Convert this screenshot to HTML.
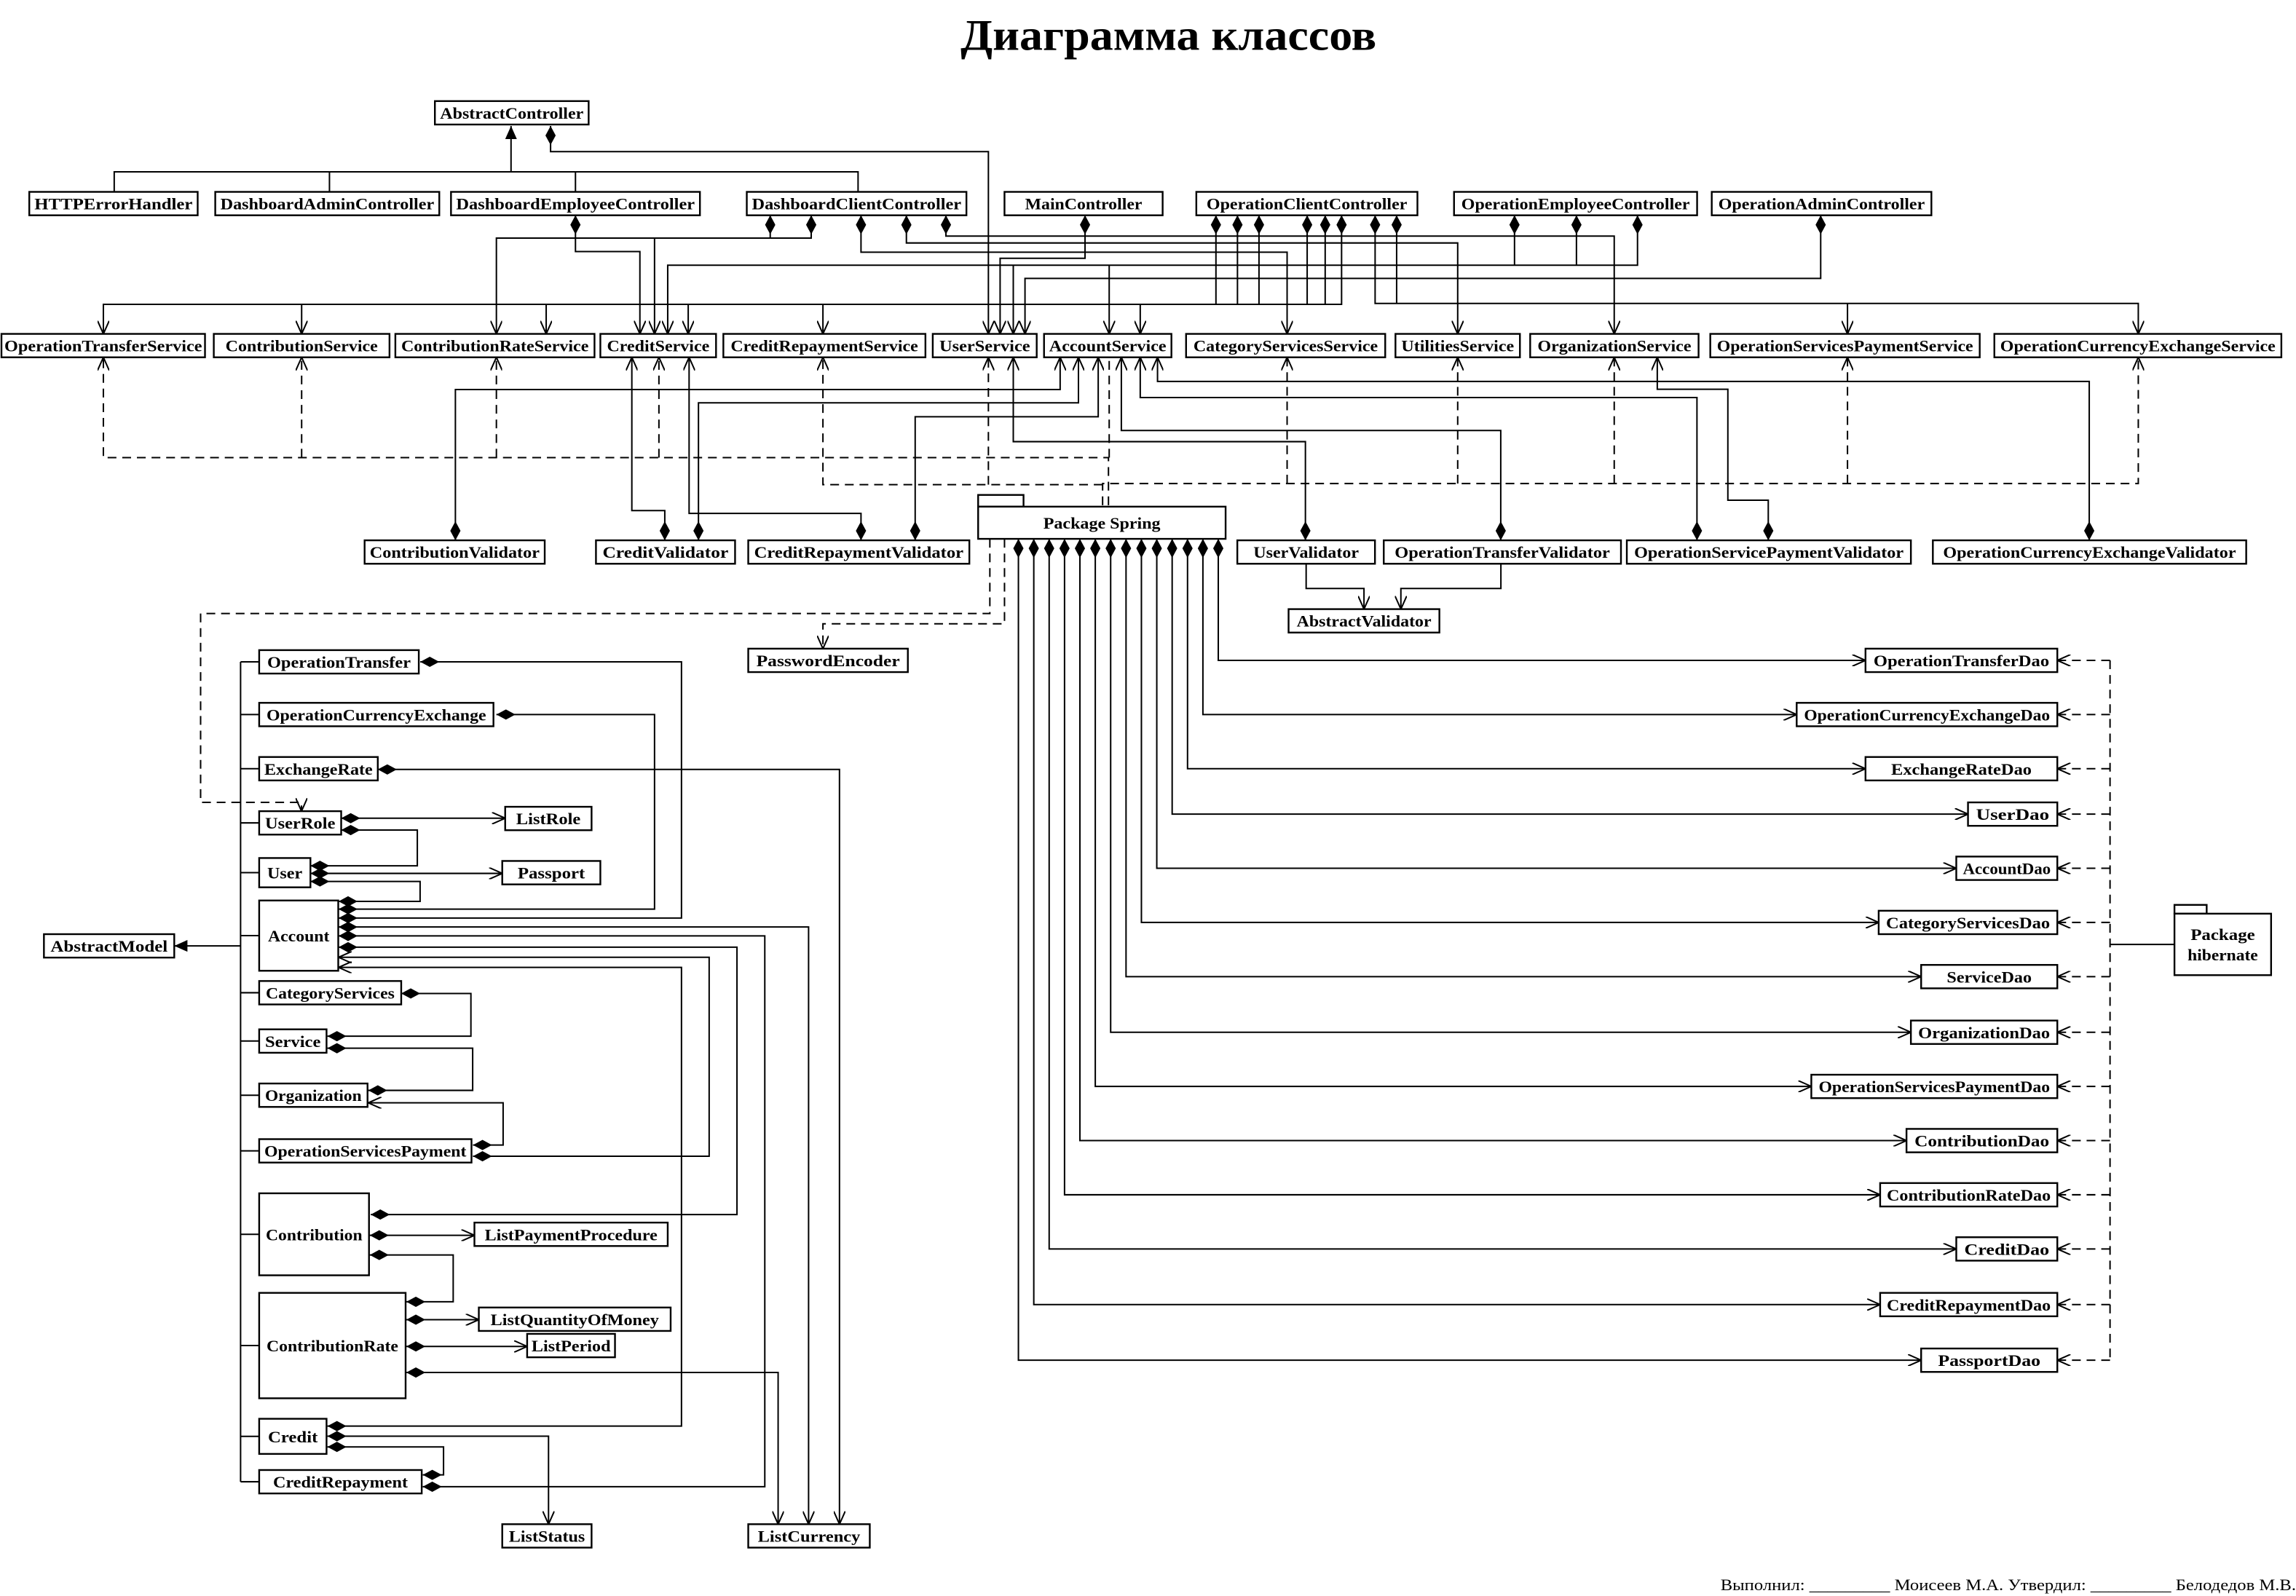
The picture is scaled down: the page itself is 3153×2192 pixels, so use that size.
<!DOCTYPE html>
<html><head><meta charset="utf-8"><style>
html,body{margin:0;padding:0;background:#fff}
svg{display:block}
text{font-family:"Liberation Serif","DejaVu Serif",serif;font-weight:bold;font-size:11px;fill:#000}
.b{fill:#fff;stroke:#000;stroke-width:1.2}
.l{fill:none;stroke:#000;stroke-width:1}
.d{fill:none;stroke:#000;stroke-width:1;stroke-dasharray:6,4}
</style></head><body>
<svg width="3153" height="2192" viewBox="0 0 1568 1090" xmlns="http://www.w3.org/2000/svg">
<defs>
<marker id="a" markerWidth="10" markerHeight="8" refX="9" refY="4" orient="auto" markerUnits="userSpaceOnUse"><path d="M0,0 L9,4 L0,8" fill="none" stroke="#000" stroke-width="1"/></marker>
<marker id="dm" markerWidth="14" markerHeight="8" refX="0" refY="3.5" orient="auto" markerUnits="userSpaceOnUse"><path d="M0,3.5 L6.5,0 L13,3.5 L6.5,7 Z" fill="#000"/></marker>
<marker id="de" markerWidth="14" markerHeight="8" refX="13" refY="3.5" orient="auto" markerUnits="userSpaceOnUse"><path d="M0,3.5 L6.5,0 L13,3.5 L6.5,7 Z" fill="#000"/></marker>
<marker id="t" markerWidth="10" markerHeight="10" refX="9" refY="4" orient="auto" markerUnits="userSpaceOnUse"><path d="M0,0 L9,4 L0,8 Z" fill="#000"/></marker>
</defs>
<rect width="1568" height="1090" fill="#fff"/>
<text x="798" y="34" text-anchor="middle" style="font-size:30px" textLength="284" lengthAdjust="spacingAndGlyphs">Диаграмма классов</text>

<g class="l">
<path d="M376,86 V103.5 H675 V228" marker-start="url(#dm)" marker-end="url(#a)"/>
<path d="M78,131 V117.3 H586 V131 M225,117.3 V131 M393,117.3 V131"/>
<path d="M349,117.3 V86" marker-end="url(#t)"/>
<path d="M393,147 V171.8 H437 V228" marker-start="url(#dm)" marker-end="url(#a)"/>
<path d="M554,147 V162.6 H339 V228" marker-start="url(#dm)" marker-end="url(#a)"/>
<path d="M526,147 V162.6" marker-start="url(#dm)"/>
<path d="M447,162.6 V228" marker-end="url(#a)"/>
<path d="M588,147 V172.2 H879 V228" marker-start="url(#dm)" marker-end="url(#a)"/>
<path d="M619,147 V165.9 H995.5 V228" marker-start="url(#dm)" marker-end="url(#a)"/>
<path d="M646,147 V161.2 H1102.4 V228" marker-start="url(#dm)" marker-end="url(#a)"/>
<path d="M741,147 V176.4 H683 V228" marker-start="url(#dm)" marker-end="url(#a)"/>
<path d="M1118.3,147 V181.1 H456 V228" marker-start="url(#dm)" marker-end="url(#a)"/>
<path d="M1034.3,147 V181.1" marker-start="url(#dm)"/>
<path d="M1076.6,147 V181.1" marker-start="url(#dm)"/>
<path d="M692,181.1 V228" marker-end="url(#a)"/>
<path d="M757.5,181.1 V228" marker-end="url(#a)"/>
<path d="M1243.4,147 V190.1 H700 V228" marker-start="url(#dm)" marker-end="url(#a)"/>
<path d="M916.2,147 V207.8 H70.6 V228" marker-start="url(#dm)" marker-end="url(#a)"/>
<path d="M830.4,147 V207.8" marker-start="url(#dm)"/>
<path d="M845.1,147 V207.8" marker-start="url(#dm)"/>
<path d="M859.8,147 V207.8" marker-start="url(#dm)"/>
<path d="M892.7,147 V207.8" marker-start="url(#dm)"/>
<path d="M905,147 V207.8" marker-start="url(#dm)"/>
<path d="M206,207.8 V228" marker-end="url(#a)"/>
<path d="M373,207.8 V228" marker-end="url(#a)"/>
<path d="M470,207.8 V228" marker-end="url(#a)"/>
<path d="M562,207.8 V228" marker-end="url(#a)"/>
<path d="M778.7,207.8 V228" marker-end="url(#a)"/>
<path d="M939.1,147 V207.2 H1460.3 V228" marker-start="url(#dm)" marker-end="url(#a)"/>
<path d="M953.8,147 V207.2" marker-start="url(#dm)"/>
<path d="M1261.7,207.2 V228" marker-end="url(#a)"/>

<path d="M311,369 V266 H724 V244" marker-start="url(#dm)" marker-end="url(#a)"/>
<path d="M454,369 V348.7 H431.5 V244" marker-start="url(#dm)" marker-end="url(#a)"/>
<path d="M477,369 V275.1 H736.5 V244" marker-start="url(#dm)" marker-end="url(#a)"/>
<path d="M588,369 V350.6 H470.6 V244" marker-start="url(#dm)" marker-end="url(#a)"/>
<path d="M625,369 V284.6 H750 V244" marker-start="url(#dm)" marker-end="url(#a)"/>
<path d="M891.5,369 V301.6 H692 V244" marker-start="url(#dm)" marker-end="url(#a)"/>
<path d="M1024.9,369 V294 H765.8 V244" marker-start="url(#dm)" marker-end="url(#a)"/>
<path d="M1158.9,369 V271.5 H778.7 V244" marker-start="url(#dm)" marker-end="url(#a)"/>
<path d="M1426.8,369 V260.5 H790.5 V244" marker-start="url(#dm)" marker-end="url(#a)"/>
<path d="M1207.6,369 V341.6 H1180 V265.8 H1131.8 V244" marker-start="url(#dm)" marker-end="url(#a)"/>
<path d="M892,385 V401.9 H931.5 V416" marker-end="url(#a)"/>
<path d="M1025,385 V401.9 H956.7 V416" marker-end="url(#a)"/>
</g>

<g class="d">
<path d="M757,345 V312.5 H70.6 V244" marker-end="url(#a)"/>
<path d="M206,312.5 V244" marker-end="url(#a)"/>
<path d="M339,312.5 V244" marker-end="url(#a)"/>
<path d="M450,312.5 V244" marker-end="url(#a)"/>
<path d="M757.5,312.5 V244"/>
<path d="M753,345 V330.2 H1460.3 V244" marker-end="url(#a)"/>
<path d="M879,330.2 V244" marker-end="url(#a)"/>
<path d="M995.5,330.2 V244" marker-end="url(#a)"/>
<path d="M1102.4,330.2 V244" marker-end="url(#a)"/>
<path d="M1261.7,330.2 V244" marker-end="url(#a)"/>
<path d="M753,331 H562 V244" marker-end="url(#a)"/>
<path d="M675,331 V244" marker-end="url(#a)"/>
<path d="M676,368 V419 H137 V548 H205.9 V554" marker-end="url(#a)"/>
<path d="M686,368 V426 H562 V443" marker-end="url(#a)"/>
<path d="M1441,451 V929"/>
<path d="M1441,451 H1405" marker-end="url(#a)"/>
<path d="M1441,488 H1405" marker-end="url(#a)"/>
<path d="M1441,525 H1405" marker-end="url(#a)"/>
<path d="M1441,556 H1405" marker-end="url(#a)"/>
<path d="M1441,593 H1405" marker-end="url(#a)"/>
<path d="M1441,630 H1405" marker-end="url(#a)"/>
<path d="M1441,667 H1405" marker-end="url(#a)"/>
<path d="M1441,705 H1405" marker-end="url(#a)"/>
<path d="M1441,742 H1405" marker-end="url(#a)"/>
<path d="M1441,779 H1405" marker-end="url(#a)"/>
<path d="M1441,816 H1405" marker-end="url(#a)"/>
<path d="M1441,853 H1405" marker-end="url(#a)"/>
<path d="M1441,891 H1405" marker-end="url(#a)"/>
<path d="M1441,929 H1405" marker-end="url(#a)"/>
</g>

<g class="l">
<path d="M1441,645 H1485"/>
<path d="M832,368 V451 H1274" marker-start="url(#dm)" marker-end="url(#a)"/>
<path d="M821.5,368 V488 H1227" marker-start="url(#dm)" marker-end="url(#a)"/>
<path d="M811,368 V525 H1274" marker-start="url(#dm)" marker-end="url(#a)"/>
<path d="M800.5,368 V556 H1344" marker-start="url(#dm)" marker-end="url(#a)"/>
<path d="M790,368 V593 H1336" marker-start="url(#dm)" marker-end="url(#a)"/>
<path d="M779.5,368 V630 H1283" marker-start="url(#dm)" marker-end="url(#a)"/>
<path d="M769,368 V667 H1312" marker-start="url(#dm)" marker-end="url(#a)"/>
<path d="M758.5,368 V705 H1305" marker-start="url(#dm)" marker-end="url(#a)"/>
<path d="M748,368 V742 H1237" marker-start="url(#dm)" marker-end="url(#a)"/>
<path d="M737.5,368 V779 H1302" marker-start="url(#dm)" marker-end="url(#a)"/>
<path d="M727,368 V816 H1284" marker-start="url(#dm)" marker-end="url(#a)"/>
<path d="M716.5,368 V853 H1336" marker-start="url(#dm)" marker-end="url(#a)"/>
<path d="M706,368 V891 H1284" marker-start="url(#dm)" marker-end="url(#a)"/>
<path d="M695.5,368 V929 H1312" marker-start="url(#dm)" marker-end="url(#a)"/>
</g>

<g class="l">
<path d="M164.3,452 V1012 M164.3,452 H177 M164.3,488 H177 M164.3,525 H177 M164.3,562 H177 M164.3,596 H177 M164.3,639 H177 M164.3,678 H177 M164.3,711 H177 M164.3,748 H177 M164.3,786 H177 M164.3,843 H177 M164.3,919 H177 M164.3,981 H177 M164.3,1012 H177"/>
<path d="M164.3,646 H119" marker-end="url(#t)"/>
<path d="M287,452 H465.4 V627 H231.2" marker-start="url(#dm)" marker-end="url(#de)"/>
<path d="M339,488 H447 V620.9 H231.2" marker-start="url(#dm)" marker-end="url(#de)"/>
<path d="M258,525.5 H573.3 V1041" marker-start="url(#dm)" marker-end="url(#a)"/>
<path d="M233,558.8 H345" marker-start="url(#dm)" marker-end="url(#a)"/>
<path d="M233,566.9 H285 V591.3 H212" marker-start="url(#dm)" marker-end="url(#de)"/>
<path d="M212,596.5 H343" marker-start="url(#dm)" marker-end="url(#a)"/>
<path d="M212,602 H286.9 V615.6 H231.2" marker-start="url(#dm)" marker-end="url(#de)"/>
<path d="M231.2,633.1 H552.2 V1041" marker-start="url(#dm)" marker-end="url(#a)"/>
<path d="M231.2,639.2 H522.3 V1015.4 H288.7" marker-start="url(#dm)" marker-end="url(#de)"/>
<path d="M231.2,646.9 H503.3 V829.5 H253.2" marker-start="url(#dm)" marker-end="url(#de)"/>
<path d="M323,789.7 H484.3 V653.8 H231.2" marker-start="url(#dm)" marker-end="url(#a)"/>
<path d="M223.6,974 H465.4 V660.7 H231.2" marker-start="url(#dm)" marker-end="url(#a)"/>
<path d="M274,678.5 H321.6 V707.7 H223.6" marker-start="url(#dm)" marker-end="url(#de)"/>
<path d="M223.6,715.9 H322.8 V744.7 H251.5" marker-start="url(#dm)" marker-end="url(#de)"/>
<path d="M323,782 H343.6 V753.2 H251.5" marker-start="url(#dm)" marker-end="url(#a)"/>
<path d="M252.5,843.7 H324" marker-start="url(#dm)" marker-end="url(#a)"/>
<path d="M252.5,857.1 H309.5 V889.1 H277.5" marker-start="url(#dm)" marker-end="url(#de)"/>
<path d="M277.5,901.3 H327" marker-start="url(#dm)" marker-end="url(#a)"/>
<path d="M277.5,919.6 H360" marker-start="url(#dm)" marker-end="url(#a)"/>
<path d="M277.5,937.4 H531.4 V1041" marker-start="url(#dm)" marker-end="url(#a)"/>
<path d="M223.6,980.9 H374.6 V1041" marker-start="url(#dm)" marker-end="url(#a)"/>
<path d="M223.6,988.2 H302.9 V1007.3 H288.7" marker-start="url(#dm)" marker-end="url(#de)"/>
</g>

<g>
<rect class="b" x="297" y="69" width="105" height="16"/><text x="349.5" y="81" text-anchor="middle" textLength="98" lengthAdjust="spacingAndGlyphs">AbstractController</text>

<rect class="b" x="20" y="131" width="115" height="16"/><text x="77.5" y="143" text-anchor="middle" textLength="108" lengthAdjust="spacingAndGlyphs">HTTPErrorHandler</text>
<rect class="b" x="147" y="131" width="153" height="16"/><text x="223.5" y="143" text-anchor="middle" textLength="146" lengthAdjust="spacingAndGlyphs">DashboardAdminController</text>
<rect class="b" x="308" y="131" width="170" height="16"/><text x="393" y="143" text-anchor="middle" textLength="163" lengthAdjust="spacingAndGlyphs">DashboardEmployeeController</text>
<rect class="b" x="510" y="131" width="150" height="16"/><text x="585" y="143" text-anchor="middle" textLength="143" lengthAdjust="spacingAndGlyphs">DashboardClientController</text>
<rect class="b" x="686" y="131" width="108" height="16"/><text x="740" y="143" text-anchor="middle" textLength="80" lengthAdjust="spacingAndGlyphs">MainController</text>
<rect class="b" x="817" y="131" width="151" height="16"/><text x="892.5" y="143" text-anchor="middle" textLength="137" lengthAdjust="spacingAndGlyphs">OperationClientController</text>
<rect class="b" x="993" y="131" width="166" height="16"/><text x="1076" y="143" text-anchor="middle" textLength="156" lengthAdjust="spacingAndGlyphs">OperationEmployeeController</text>
<rect class="b" x="1169" y="131" width="150" height="16"/><text x="1244" y="143" text-anchor="middle" textLength="141" lengthAdjust="spacingAndGlyphs">OperationAdminController</text>

<rect class="b" x="1" y="228" width="139" height="16"/><text x="70.5" y="240" text-anchor="middle" textLength="135" lengthAdjust="spacingAndGlyphs">OperationTransferService</text>
<rect class="b" x="146" y="228" width="120" height="16"/><text x="206" y="240" text-anchor="middle" textLength="104" lengthAdjust="spacingAndGlyphs">ContributionService</text>
<rect class="b" x="270" y="228" width="136" height="16"/><text x="338" y="240" text-anchor="middle" textLength="128" lengthAdjust="spacingAndGlyphs">ContributionRateService</text>
<rect class="b" x="410" y="228" width="79" height="16"/><text x="449.5" y="240" text-anchor="middle" textLength="70" lengthAdjust="spacingAndGlyphs">CreditService</text>
<rect class="b" x="494" y="228" width="138" height="16"/><text x="563" y="240" text-anchor="middle" textLength="128" lengthAdjust="spacingAndGlyphs">CreditRepaymentService</text>
<rect class="b" x="637" y="228" width="71" height="16"/><text x="672.5" y="240" text-anchor="middle" textLength="62" lengthAdjust="spacingAndGlyphs">UserService</text>
<rect class="b" x="713" y="228" width="87" height="16"/><text x="756.5" y="240" text-anchor="middle" textLength="80" lengthAdjust="spacingAndGlyphs">AccountService</text>
<rect class="b" x="810" y="228" width="136" height="16"/><text x="878" y="240" text-anchor="middle" textLength="126" lengthAdjust="spacingAndGlyphs">CategoryServicesService</text>
<rect class="b" x="953" y="228" width="85" height="16"/><text x="995.5" y="240" text-anchor="middle" textLength="77" lengthAdjust="spacingAndGlyphs">UtilitiesService</text>
<rect class="b" x="1045" y="228" width="115" height="16"/><text x="1102.5" y="240" text-anchor="middle" textLength="105" lengthAdjust="spacingAndGlyphs">OrganizationService</text>
<rect class="b" x="1168" y="228" width="184" height="16"/><text x="1260" y="240" text-anchor="middle" textLength="175" lengthAdjust="spacingAndGlyphs">OperationServicesPaymentService</text>
<rect class="b" x="1362" y="228" width="196" height="16"/><text x="1460" y="240" text-anchor="middle" textLength="188" lengthAdjust="spacingAndGlyphs">OperationCurrencyExchangeService</text>

<rect class="b" x="249" y="369" width="123" height="16"/><text x="310.5" y="381" text-anchor="middle" textLength="116" lengthAdjust="spacingAndGlyphs">ContributionValidator</text>
<rect class="b" x="407" y="369" width="95" height="16"/><text x="454.5" y="381" text-anchor="middle" textLength="86" lengthAdjust="spacingAndGlyphs">CreditValidator</text>
<rect class="b" x="511" y="369" width="151" height="16"/><text x="586.5" y="381" text-anchor="middle" textLength="143" lengthAdjust="spacingAndGlyphs">CreditRepaymentValidator</text>
<rect class="b" x="845" y="369" width="94" height="16"/><text x="892" y="381" text-anchor="middle" textLength="72" lengthAdjust="spacingAndGlyphs">UserValidator</text>
<rect class="b" x="945" y="369" width="162" height="16"/><text x="1026" y="381" text-anchor="middle" textLength="147" lengthAdjust="spacingAndGlyphs">OperationTransferValidator</text>
<rect class="b" x="1111" y="369" width="194" height="16"/><text x="1208" y="381" text-anchor="middle" textLength="184" lengthAdjust="spacingAndGlyphs">OperationServicePaymentValidator</text>
<rect class="b" x="1320" y="369" width="214" height="16"/><text x="1427" y="381" text-anchor="middle" textLength="200" lengthAdjust="spacingAndGlyphs">OperationCurrencyExchangeValidator</text>
<rect class="b" x="880" y="416" width="103" height="16"/><text x="931.5" y="428" text-anchor="middle" textLength="92" lengthAdjust="spacingAndGlyphs">AbstractValidator</text>

<rect class="b" x="668" y="338" width="31" height="8"/>
<rect class="b" x="668" y="346" width="169" height="22"/><text x="752.5" y="361" text-anchor="middle" textLength="80" lengthAdjust="spacingAndGlyphs">Package Spring</text>
<rect class="b" x="511" y="443" width="109" height="16"/><text x="565.5" y="455" text-anchor="middle" textLength="98" lengthAdjust="spacingAndGlyphs">PasswordEncoder</text>

<rect class="b" x="1274" y="443" width="131" height="16"/><text x="1339.5" y="455" text-anchor="middle" textLength="120" lengthAdjust="spacingAndGlyphs">OperationTransferDao</text>
<rect class="b" x="1227" y="480" width="178" height="16"/><text x="1316" y="492" text-anchor="middle" textLength="168" lengthAdjust="spacingAndGlyphs">OperationCurrencyExchangeDao</text>
<rect class="b" x="1274" y="517" width="131" height="16"/><text x="1339.5" y="529" text-anchor="middle" textLength="96" lengthAdjust="spacingAndGlyphs">ExchangeRateDao</text>
<rect class="b" x="1344" y="548" width="61" height="16"/><text x="1374.5" y="560" text-anchor="middle" textLength="50" lengthAdjust="spacingAndGlyphs">UserDao</text>
<rect class="b" x="1336" y="585" width="69" height="16"/><text x="1370.5" y="597" text-anchor="middle" textLength="60" lengthAdjust="spacingAndGlyphs">AccountDao</text>
<rect class="b" x="1283" y="622" width="122" height="16"/><text x="1344" y="634" text-anchor="middle" textLength="112" lengthAdjust="spacingAndGlyphs">CategoryServicesDao</text>
<rect class="b" x="1312" y="659" width="93" height="16"/><text x="1358.5" y="671" text-anchor="middle" textLength="58" lengthAdjust="spacingAndGlyphs">ServiceDao</text>
<rect class="b" x="1305" y="697" width="100" height="16"/><text x="1355" y="709" text-anchor="middle" textLength="90" lengthAdjust="spacingAndGlyphs">OrganizationDao</text>
<rect class="b" x="1237" y="734" width="168" height="16"/><text x="1321" y="746" text-anchor="middle" textLength="158" lengthAdjust="spacingAndGlyphs">OperationServicesPaymentDao</text>
<rect class="b" x="1302" y="771" width="103" height="16"/><text x="1353.5" y="783" text-anchor="middle" textLength="92" lengthAdjust="spacingAndGlyphs">ContributionDao</text>
<rect class="b" x="1284" y="808" width="121" height="16"/><text x="1344.5" y="820" text-anchor="middle" textLength="112" lengthAdjust="spacingAndGlyphs">ContributionRateDao</text>
<rect class="b" x="1336" y="845" width="69" height="16"/><text x="1370.5" y="857" text-anchor="middle" textLength="58" lengthAdjust="spacingAndGlyphs">CreditDao</text>
<rect class="b" x="1284" y="883" width="121" height="16"/><text x="1344.5" y="895" text-anchor="middle" textLength="112" lengthAdjust="spacingAndGlyphs">CreditRepaymentDao</text>
<rect class="b" x="1312" y="921" width="93" height="16"/><text x="1358.5" y="933" text-anchor="middle" textLength="70" lengthAdjust="spacingAndGlyphs">PassportDao</text>

<rect class="b" x="1485" y="618" width="22" height="6"/>
<rect class="b" x="1485" y="624" width="66" height="42"/>
<text x="1518" y="642" text-anchor="middle" textLength="44" lengthAdjust="spacingAndGlyphs">Package</text>
<text x="1518" y="656" text-anchor="middle" textLength="48" lengthAdjust="spacingAndGlyphs">hibernate</text>

<rect class="b" x="30" y="638" width="89" height="16"/><text x="74.5" y="650" text-anchor="middle" textLength="80" lengthAdjust="spacingAndGlyphs">AbstractModel</text>
<rect class="b" x="177" y="444" width="109" height="16"/><text x="231.5" y="456" text-anchor="middle" textLength="98" lengthAdjust="spacingAndGlyphs">OperationTransfer</text>
<rect class="b" x="177" y="480" width="160" height="16"/><text x="257" y="492" text-anchor="middle" textLength="150" lengthAdjust="spacingAndGlyphs">OperationCurrencyExchange</text>
<rect class="b" x="177" y="517" width="81" height="16"/><text x="217.5" y="529" text-anchor="middle" textLength="74" lengthAdjust="spacingAndGlyphs">ExchangeRate</text>
<rect class="b" x="177" y="554" width="56" height="16"/><text x="205" y="566" text-anchor="middle" textLength="48" lengthAdjust="spacingAndGlyphs">UserRole</text>
<rect class="b" x="345" y="551" width="59" height="16"/><text x="374.5" y="563" text-anchor="middle" textLength="44" lengthAdjust="spacingAndGlyphs">ListRole</text>
<rect class="b" x="177" y="586" width="35" height="20"/><text x="194.5" y="600" text-anchor="middle" textLength="24" lengthAdjust="spacingAndGlyphs">User</text>
<rect class="b" x="343" y="588" width="67" height="16"/><text x="376.5" y="600" text-anchor="middle" textLength="46" lengthAdjust="spacingAndGlyphs">Passport</text>
<rect class="b" x="177" y="615" width="54" height="48"/><text x="204" y="643" text-anchor="middle" textLength="42" lengthAdjust="spacingAndGlyphs">Account</text>
<rect class="b" x="177" y="670" width="97" height="16"/><text x="225.5" y="682" text-anchor="middle" textLength="88" lengthAdjust="spacingAndGlyphs">CategoryServices</text>
<rect class="b" x="177" y="703" width="46" height="16"/><text x="200" y="715" text-anchor="middle" textLength="38" lengthAdjust="spacingAndGlyphs">Service</text>
<rect class="b" x="177" y="740" width="74" height="16"/><text x="214" y="752" text-anchor="middle" textLength="66" lengthAdjust="spacingAndGlyphs">Organization</text>
<rect class="b" x="177" y="778" width="145" height="16"/><text x="249.5" y="790" text-anchor="middle" textLength="138" lengthAdjust="spacingAndGlyphs">OperationServicesPayment</text>
<rect class="b" x="177" y="815" width="75" height="56"/><text x="214.5" y="847" text-anchor="middle" textLength="66" lengthAdjust="spacingAndGlyphs">Contribution</text>
<rect class="b" x="324" y="835" width="132" height="16"/><text x="390" y="847" text-anchor="middle" textLength="118" lengthAdjust="spacingAndGlyphs">ListPaymentProcedure</text>
<rect class="b" x="177" y="883" width="100" height="72"/><text x="227" y="923" text-anchor="middle" textLength="90" lengthAdjust="spacingAndGlyphs">ContributionRate</text>
<rect class="b" x="327" y="893" width="131" height="16"/><text x="392.5" y="905" text-anchor="middle" textLength="115" lengthAdjust="spacingAndGlyphs">ListQuantityOfMoney</text>
<rect class="b" x="360" y="911" width="60" height="16"/><text x="390" y="923" text-anchor="middle" textLength="54" lengthAdjust="spacingAndGlyphs">ListPeriod</text>
<rect class="b" x="177" y="969" width="46" height="24"/><text x="200" y="985" text-anchor="middle" textLength="34" lengthAdjust="spacingAndGlyphs">Credit</text>
<rect class="b" x="177" y="1004" width="111" height="16"/><text x="232.5" y="1016" text-anchor="middle" textLength="92" lengthAdjust="spacingAndGlyphs">CreditRepayment</text>
<rect class="b" x="343" y="1041" width="61" height="16"/><text x="373.5" y="1053" text-anchor="middle" textLength="52" lengthAdjust="spacingAndGlyphs">ListStatus</text>
<rect class="b" x="511" y="1041" width="83" height="16"/><text x="552.5" y="1053" text-anchor="middle" textLength="70" lengthAdjust="spacingAndGlyphs">ListCurrency</text>
</g>

<text x="1175" y="1086" style="font-weight:normal;font-size:11px" textLength="393" lengthAdjust="spacingAndGlyphs">Выполнил:  _________  Моисеев М.А.  Утвердил:  _________  Белодедов М.В.</text>
</svg>
</body></html>
